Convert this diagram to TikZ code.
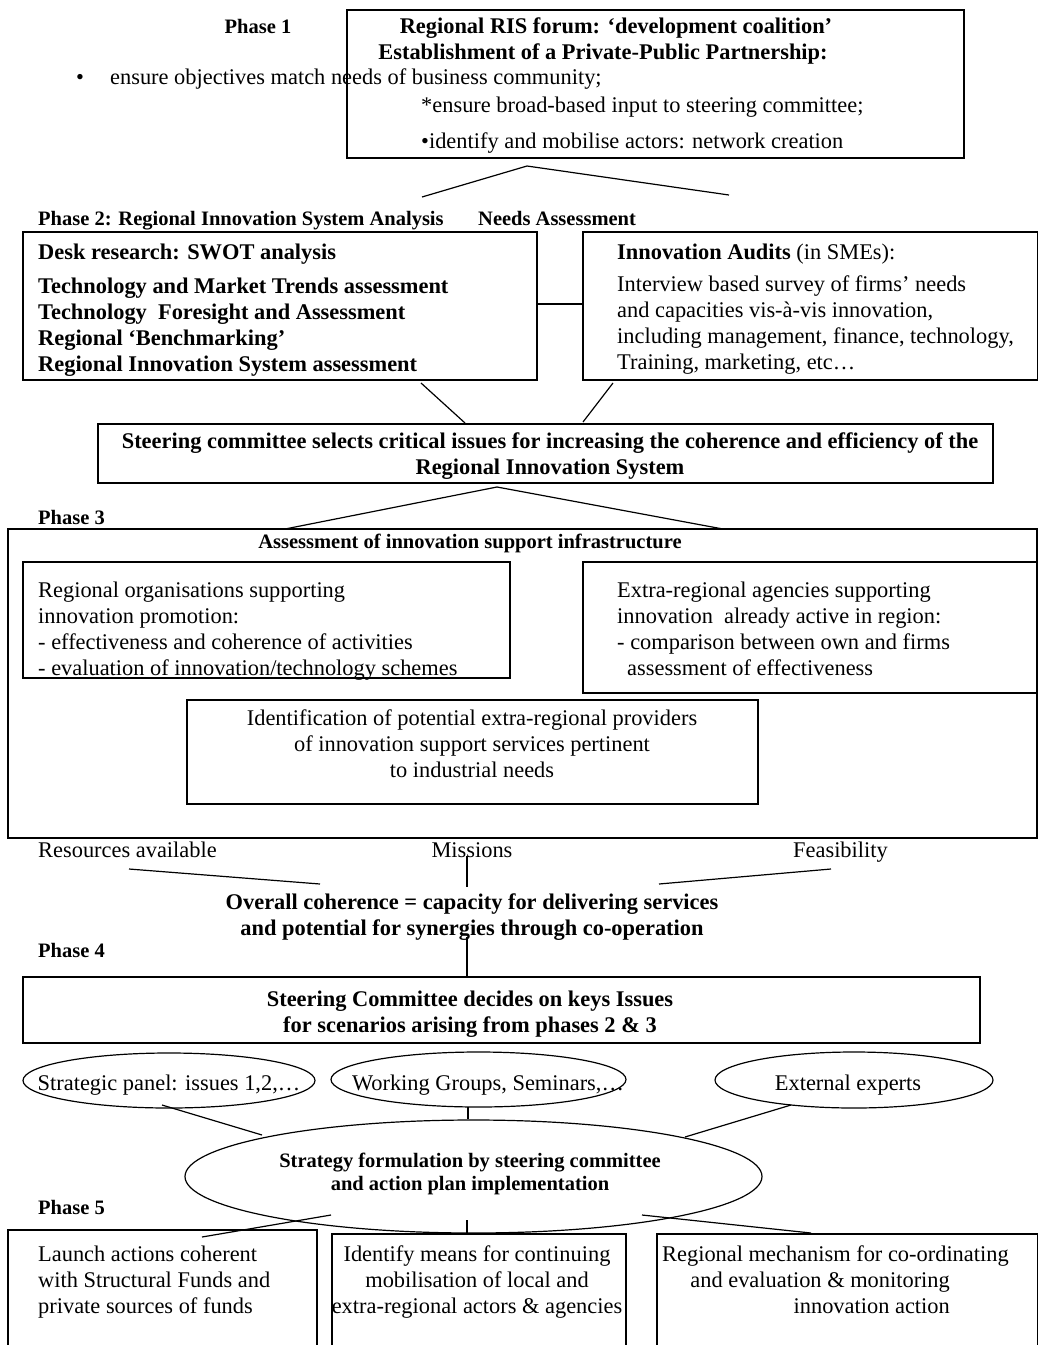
\documentclass[tikz,border=0pt]{standalone}
\usepackage{fontspec}
\setmainfont{Liberation Serif}
\usetikzlibrary{shapes.geometric}
\newcommand\myfn{\fontsize{22.4}{26}\selectfont}
\newcommand\myfb{\fontsize{22.4}{26}\selectfont\bfseries}
\newcommand\myfh{\fontsize{20.5}{22}\selectfont\bfseries}
\newcommand\myfs{\fontsize{20.5}{23}\selectfont\bfseries}
\begin{document}
\begin{tikzpicture}[x=1pt,y=-1pt,
  box/.style={draw, line width=1.3pt, inner sep=0pt},
  oval/.style={draw, ellipse, line width=1.2pt, inner sep=0pt},
  con/.style={line width=1.2pt},
  tl/.style={inner sep=0pt, anchor=north west, align=left},
  tc/.style={inner sep=0pt, anchor=north, align=center},
  tr/.style={inner sep=0pt, anchor=north east, align=right}]
\useasboundingbox (0,0) rectangle (1038,1345);

% ---------- Phase 1
\node[box, minimum width=617pt, minimum height=148pt] (p1box) at (655.5,84) {};
\node[tc, font=\myfh] (p1lab) at (258,17.6) {\strut Phase 1};
\node[tc, font=\myfb] (p1title) at (616,14.8) {\strut Regional RIS forum: ‘development coalition’};
\node[tc, font=\myfb] (p1title2) at (603,40.8) {\strut Establishment of a Private-Public Partnership:};
\node[tl, font=\myfn] (p1b1) at (76,65.8) {\strut\makebox[34pt][l]{•}ensure objectives match needs of business community;};
\node[tl, font=\myfn] (p1b2) at (421,93.8) {\strut *ensure broad-based input to steering committee;};
\node[tl, font=\myfn] (p1b3) at (421,129.8) {\strut •identify and mobilise actors: network creation};
\coordinate (a1) at (527,166);
\coordinate (a1l) at (422,197);
\coordinate (a1r) at (729,195);
\draw[con] (a1l) -- (a1) -- (a1r);

% ---------- Phase 2
\node[tl, font=\myfh] (p2lab) at (38,209.6) {\strut Phase 2: Regional Innovation System Analysis};
\node[tl, font=\myfh] (p2need) at (478,209.6) {\strut Needs Assessment};
\node[box, minimum width=514pt, minimum height=148pt] (lbox) at (280,306) {};
\node[tl, font=\myfb] (l1) at (38,240.8) {\strut Desk research: SWOT analysis};
\node[tl, font=\myfb] (l2) at (38,274.8) {\strut Technology and Market Trends assessment\\Technology\ \ Foresight and Assessment\\Regional ‘Benchmarking’\\Regional Innovation System assessment};
\node[box, minimum width=455pt, minimum height=148pt] (rbox) at (810.5,306) {};
\node[tl, font=\myfn] (r1) at (617,240.8) {\strut\textbf{Innovation Audits} (in SMEs):};
\node[tl, font=\myfn] (r2) at (617,272.8) {\strut Interview based survey of firms’ needs\\and capacities vis-à-vis innovation,\\including management, finance, technology,\\Training, marketing, etc…};
\draw[con] (lbox.east |- 0,304) -- (rbox.west |- 0,304);
\coordinate (c2a) at (421,383);
\coordinate (c2b) at (465,423);
\coordinate (c2c) at (613,383);
\coordinate (c2d) at (583,422);
\node[box, minimum width=895pt, minimum height=59pt] (steer) at (545.5,453.5) {};
\node[tc, font=\myfb] (steertxt) at (550,429.8) {\strut Steering committee selects critical issues for increasing the coherence and efficiency of the\\Regional Innovation System};
\draw[con] (c2a) -- (c2b);
\draw[con] (c2c) -- (c2d);
\coordinate (a2) at (497,487);
\coordinate (a2l) at (285,529);
\coordinate (a2r) at (723,529);
\draw[con] (a2l) -- (a2) -- (a2r);

% ---------- Phase 3
\node[tl, font=\myfh] (p3lab) at (38,508.6) {\strut Phase 3};
\node[box, minimum width=1029pt, minimum height=309pt] (p3box) at (522.5,683.5) {};
\node[tc, font=\myfh] (p3title) at (470,532.6) {\strut Assessment of innovation support infrastructure};
\node[box, minimum width=487pt, minimum height=116pt] (ibl) at (266.5,620) {};
\node[tl, font=\myfn] (ibltxt) at (38,578.8) {\strut Regional organisations supporting\\innovation promotion:\\- effectiveness and coherence of activities\\- evaluation of innovation/technology schemes};
\node[box, minimum width=455pt, minimum height=131pt] (ibr) at (810.5,627.5) {};
\node[tl, font=\myfn] (ibrtxt) at (617,578.8) {\strut Extra-regional agencies supporting\\innovation\ \ already active in region:\\- comparison between own and firms\\\hspace*{10pt}assessment of effectiveness};
\node[box, minimum width=571pt, minimum height=104pt] (ibc) at (472.5,752) {};
\node[tc, font=\myfn] (ibctxt) at (472,706.8) {\strut Identification of potential extra-regional providers\\of innovation support services pertinent\\to industrial needs};

\node[tl, font=\myfn] (res) at (38,838.8) {\strut Resources available};
\node[tc, font=\myfn] (mis) at (472,838.8) {\strut Missions};
\node[tl, font=\myfn] (fea) at (793,838.8) {\strut Feasibility};
\coordinate (m1) at (129,869);
\coordinate (m2) at (320,884);
\coordinate (m3) at (467,856);
\coordinate (m4) at (467,887);
\coordinate (m5) at (659,884);
\coordinate (m6) at (831,869);
\draw[con] (m1) -- (m2);
\draw[con] (m3) -- (m4);
\draw[con] (m5) -- (m6);
\node[tc, font=\myfb] (overall) at (472,890.8) {\strut Overall coherence = capacity for delivering services\\and potential for synergies through co-operation};

% ---------- Phase 4
\node[tl, font=\myfh] (p4lab) at (38,941.6) {\strut Phase 4};
\node[box, minimum width=957pt, minimum height=66pt] (p4box) at (501.5,1010) {};
\node[tc, font=\myfb] (p4txt) at (470,987.8) {\strut Steering Committee decides on keys Issues\\for scenarios arising from phases 2 \& 3};
\coordinate (v4a) at (467,937);
\draw[con] (v4a) -- (v4a |- p4box.north);

\node[oval, minimum width=292pt, minimum height=55pt] (e1) at (169,1080.5) {};
\node[oval, minimum width=295pt, minimum height=55pt] (e2) at (478.5,1079.5) {};
\node[oval, minimum width=278pt, minimum height=56pt] (e3) at (854,1080) {};
\node[tc, font=\myfn] (e1t) at (169,1071.8) {\strut Strategic panel: issues 1,2,…};
\node[tc, font=\myfn] (e2t) at (488,1071.8) {\strut Working Groups, Seminars,…};
\node[tc, font=\myfn] (e3t) at (848,1071.8) {\strut External experts};
\node[oval, minimum width=577pt, minimum height=113pt] (strat) at (473.5,1176.5) {};
\node[tc, font=\myfs] (stratt) at (470,1151.6) {\strut Strategy formulation by steering committee\\and action plan implementation};
\coordinate (s1) at (162,1105);
\coordinate (s2) at (262,1135);
\coordinate (s3) at (791,1105);
\coordinate (s4) at (685,1137);
\coordinate (s5) at (468,1107);
\draw[con] (s1) -- (s2);
\draw[con] (s5) -- (s5 |- strat.north);
\draw[con] (s3) -- (s4);

% ---------- Phase 5
\node[tl, font=\myfh] (p5lab) at (38,1198.6) {\strut Phase 5};
\node[box, minimum width=309pt, minimum height=140pt] (b1) at (162.5,1300) {};
\node[box, minimum width=294pt, minimum height=136pt] (b2) at (479,1302) {};
\node[box, minimum width=381pt, minimum height=136pt] (b3) at (847.5,1302) {};
\coordinate (f1) at (331,1215);
\coordinate (f2) at (202,1237);
\coordinate (f3) at (467,1220);
\coordinate (f5) at (642,1215);
\coordinate (f6) at (811,1233);
\draw[con] (f1) -- (f2);
\draw[con] (f3) -- (f3 |- b2.north);
\draw[con] (f5) -- (f6);
\node[tl, font=\myfn] (b1txt) at (38,1242.8) {\strut Launch actions coherent\\with Structural Funds and\\private sources of funds};
\node[tc, font=\myfn] (b2txt) at (477,1242.8) {\strut Identify means for continuing\\mobilisation of local and\\extra-regional actors \& agencies};
\node[tl, font=\myfn] (b3txt) at (662,1242.8) {\strut Regional mechanism for co-ordinating};
\node[tr, font=\myfn] (b3txt2) at (950,1268.8) {\strut and evaluation \& monitoring\\innovation action};
\end{tikzpicture}
\end{document}
